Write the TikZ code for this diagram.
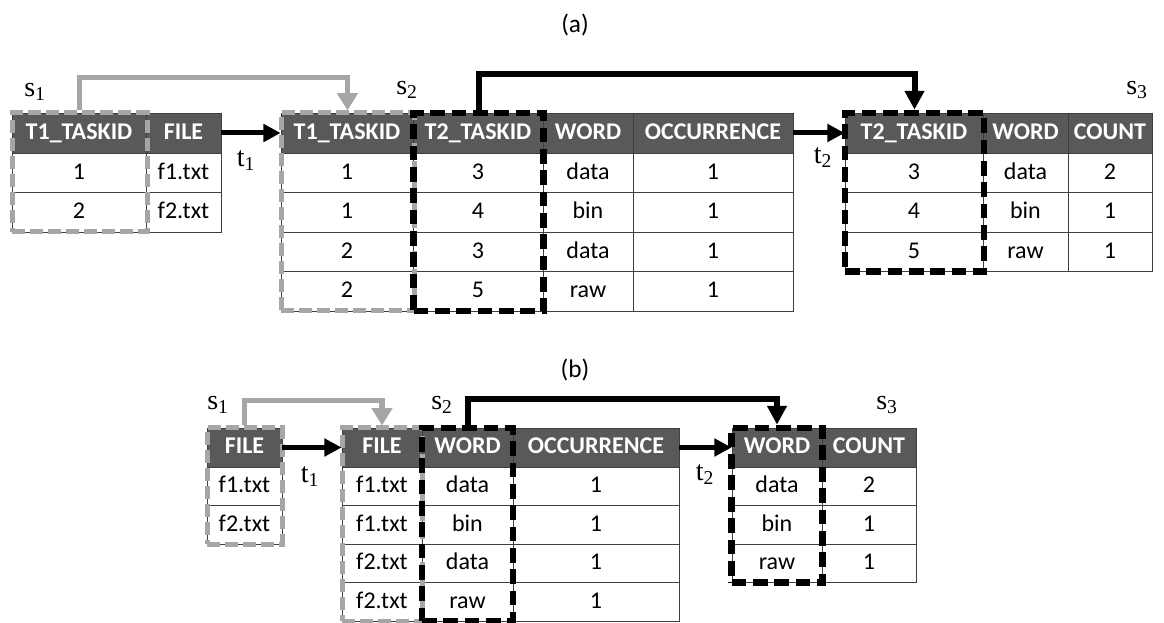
\documentclass[tikz,border=0pt]{standalone}
\usepackage{fontspec}
\setmainfont{Carlito}
\newfontfamily\serifs{Liberation Serif}
\usetikzlibrary{arrows.meta}
\definecolor{hdgrey}{HTML}{595959}
\definecolor{boxgrey}{HTML}{A6A6A6}
\definecolor{gridline}{HTML}{3F3F3F}
\newcommand{\lbl}[2]{{\serifs\fontsize{21}{25}\selectfont #1\textsubscript{#2}}}

\begin{document}
\begin{tikzpicture}[x=0.75pt, y=-0.75pt,
  every node/.style={font=\fontsize{18}{21}\selectfont},
  sz/.style 2 args={minimum width=#1*0.75pt, minimum height=#2*0.75pt},
  hd/.style={draw=gridline, fill=hdgrey, text=white, font=\fontsize{18}{21}\selectfont\bfseries, inner sep=0pt, text height=12.5pt, text depth=3pt, line width=0.6pt},
  cell/.style={draw=gridline, fill=white, inner sep=0pt, text height=12.5pt, text depth=3pt, line width=0.6pt},
  gbox/.style={draw=boxgrey, line width=3.75pt, dash pattern=on 9.5pt off 4pt, inner sep=0pt},
  bbox/.style={draw=black, line width=5pt, dash pattern=on 11pt off 5pt, inner sep=0pt},
  garrow/.style={draw=boxgrey, line width=4pt, -{Triangle[length=13pt,width=15pt]}},
  barrow/.style={draw=black, line width=4.5pt, -{Triangle[length=14pt,width=14pt]}},
  flow/.style={draw=black, line width=3.75pt, -{Triangle[length=13pt,width=13pt]}}]
\useasboundingbox (0,0) rectangle (1164,623);

% (a)
\node[font=\fontsize{19}{22}\selectfont] (capa) at (575,25) {(a)};
\node[hd, sz={134}{40}] (a1h1) at (79,133) {T1\_TASKID};
\node[hd, sz={75}{40}] (a1h2) at (183.5,133) {FILE};
\node[cell, sz={134}{39.5}] (a1r1c1) at (79,172.75) {1};
\node[cell, sz={75}{39.5}] (a1r1c2) at (183.5,172.75) {f1.txt};
\node[cell, sz={134}{39.5}] (a1r2c1) at (79,212.25) {2};
\node[cell, sz={75}{39.5}] (a1r2c2) at (183.5,212.25) {f2.txt};

\node[hd, sz={132}{40}] (a2h1) at (347,133) {T1\_TASKID};
\node[hd, sz={130}{40}] (a2h2) at (478,133) {T2\_TASKID};
\node[hd, sz={90}{40}] (a2h3) at (588,133) {WORD};
\node[hd, sz={160}{40}] (a2h4) at (713,133) {OCCURRENCE};
\node[cell, sz={132}{39.5}] (a2r1c1) at (347,172.75) {1};
\node[cell, sz={130}{39.5}] (a2r1c2) at (478,172.75) {3};
\node[cell, sz={90}{39.5}] (a2r1c3) at (588,172.75) {data};
\node[cell, sz={160}{39.5}] (a2r1c4) at (713,172.75) {1};
\node[cell, sz={132}{39.5}] (a2r2c1) at (347,212.25) {1};
\node[cell, sz={130}{39.5}] (a2r2c2) at (478,212.25) {4};
\node[cell, sz={90}{39.5}] (a2r2c3) at (588,212.25) {bin};
\node[cell, sz={160}{39.5}] (a2r2c4) at (713,212.25) {1};
\node[cell, sz={132}{39.5}] (a2r3c1) at (347,251.75) {2};
\node[cell, sz={130}{39.5}] (a2r3c2) at (478,251.75) {3};
\node[cell, sz={90}{39.5}] (a2r3c3) at (588,251.75) {data};
\node[cell, sz={160}{39.5}] (a2r3c4) at (713,251.75) {1};
\node[cell, sz={132}{39.5}] (a2r4c1) at (347,291.25) {2};
\node[cell, sz={130}{39.5}] (a2r4c2) at (478,291.25) {5};
\node[cell, sz={90}{39.5}] (a2r4c3) at (588,291.25) {raw};
\node[cell, sz={160}{39.5}] (a2r4c4) at (713,291.25) {1};

\node[hd, sz={138}{40}] (a3h1) at (914,133) {T2\_TASKID};
\node[hd, sz={85}{40}] (a3h2) at (1025.5,133) {WORD};
\node[hd, sz={84}{40}] (a3h3) at (1110,133) {COUNT};
\node[cell, sz={138}{39.5}] (a3r1c1) at (914,172.75) {3};
\node[cell, sz={85}{39.5}] (a3r1c2) at (1025.5,172.75) {data};
\node[cell, sz={84}{39.5}] (a3r1c3) at (1110,172.75) {2};
\node[cell, sz={138}{39.5}] (a3r2c1) at (914,212.25) {4};
\node[cell, sz={85}{39.5}] (a3r2c2) at (1025.5,212.25) {bin};
\node[cell, sz={84}{39.5}] (a3r2c3) at (1110,212.25) {1};
\node[cell, sz={138}{39.5}] (a3r3c1) at (914,251.75) {5};
\node[cell, sz={85}{39.5}] (a3r3c2) at (1025.5,251.75) {raw};
\node[cell, sz={84}{39.5}] (a3r3c3) at (1110,251.75) {1};

\node[gbox, sz={135}{119}] (a1k) at (79.5,172.5) {};
\node[gbox, sz={133}{198}] (a2k) at (347.5,212) {};
\node[bbox, sz={130}{198}] (a2t) at (478.5,212) {};
\node[bbox, sz={139}{158.5}] (a3t) at (914.5,192.25) {};

\node (s1a) at (35,92) {\lbl{s}{1}};
\node (s2a) at (407,90) {\lbl{s}{2}};
\node (s3a) at (1137,90) {\lbl{s}{3}};
\node (t1a) at (246,161) {\lbl{t}{1}};
\node (t2a) at (823,158) {\lbl{t}{2}};

\draw[garrow] (a1k.north) -- ++(0,-33) -| (a2k.north);
\draw[barrow] (a2t.north) -- ++(0,-36) -| (a3t.north);
\draw[flow] (a1h2) -- (a2h1);
\draw[flow] (a2h4) -- (a3h1);

% (b)
\node[font=\fontsize{19}{22}\selectfont] (capb) at (575,370) {(b)};
\node[hd, sz={75}{39}] (b1h1) at (244.5,447.5) {FILE};
\node[cell, sz={75}{38.5}] (b1r1c1) at (244.5,486.25) {f1.txt};
\node[cell, sz={75}{38.5}] (b1r2c1) at (244.5,524.75) {f2.txt};

\node[hd, sz={80}{39}] (b2h1) at (382,447.5) {FILE};
\node[hd, sz={91}{39}] (b2h2) at (467.5,447.5) {WORD};
\node[hd, sz={166}{39}] (b2h3) at (596,447.5) {OCCURRENCE};
\node[cell, sz={80}{38.5}] (b2r1c1) at (382,486.25) {f1.txt};
\node[cell, sz={91}{38.5}] (b2r1c2) at (467.5,486.25) {data};
\node[cell, sz={166}{38.5}] (b2r1c3) at (596,486.25) {1};
\node[cell, sz={80}{38.5}] (b2r2c1) at (382,524.75) {f1.txt};
\node[cell, sz={91}{38.5}] (b2r2c2) at (467.5,524.75) {bin};
\node[cell, sz={166}{38.5}] (b2r2c3) at (596,524.75) {1};
\node[cell, sz={80}{38.5}] (b2r3c1) at (382,563.25) {f2.txt};
\node[cell, sz={91}{38.5}] (b2r3c2) at (467.5,563.25) {data};
\node[cell, sz={166}{38.5}] (b2r3c3) at (596,563.25) {1};
\node[cell, sz={80}{38.5}] (b2r4c1) at (382,601.75) {f2.txt};
\node[cell, sz={91}{38.5}] (b2r4c2) at (467.5,601.75) {raw};
\node[cell, sz={166}{38.5}] (b2r4c3) at (596,601.75) {1};

\node[hd, sz={90}{39}] (b3h1) at (777,447.5) {WORD};
\node[hd, sz={94}{39}] (b3h2) at (869,447.5) {COUNT};
\node[cell, sz={90}{38.5}] (b3r1c1) at (777,486.25) {data};
\node[cell, sz={94}{38.5}] (b3r1c2) at (869,486.25) {2};
\node[cell, sz={90}{38.5}] (b3r2c1) at (777,524.75) {bin};
\node[cell, sz={94}{38.5}] (b3r2c2) at (869,524.75) {1};
\node[cell, sz={90}{38.5}] (b3r3c1) at (777,563.25) {raw};
\node[cell, sz={94}{38.5}] (b3r3c2) at (869,563.25) {1};

\node[gbox, sz={75}{116}] (b1k) at (244.5,486) {};
\node[gbox, sz={80}{193}] (b2k) at (382,524.5) {};
\node[bbox, sz={91}{193}] (b2w) at (467.5,524.5) {};
\node[bbox, sz={91}{154.5}] (b3w) at (777,505.25) {};

\node (s1b) at (218,405) {\lbl{s}{1}};
\node (s2b) at (442,405) {\lbl{s}{2}};
\node (s3b) at (887,405) {\lbl{s}{3}};
\node (t1b) at (310,477) {\lbl{t}{1}};
\node (t2b) at (705,475) {\lbl{t}{2}};

\draw[garrow] (b1k.north) -- ++(0,-25) -| (b2k.north);
\draw[barrow] (b2w.north) -- ++(0,-26) -| (b3w.north);
\draw[flow] (b1h1) -- (b2h1);
\draw[flow] (b2h3) -- (b3h1);
\end{tikzpicture}
\end{document}
